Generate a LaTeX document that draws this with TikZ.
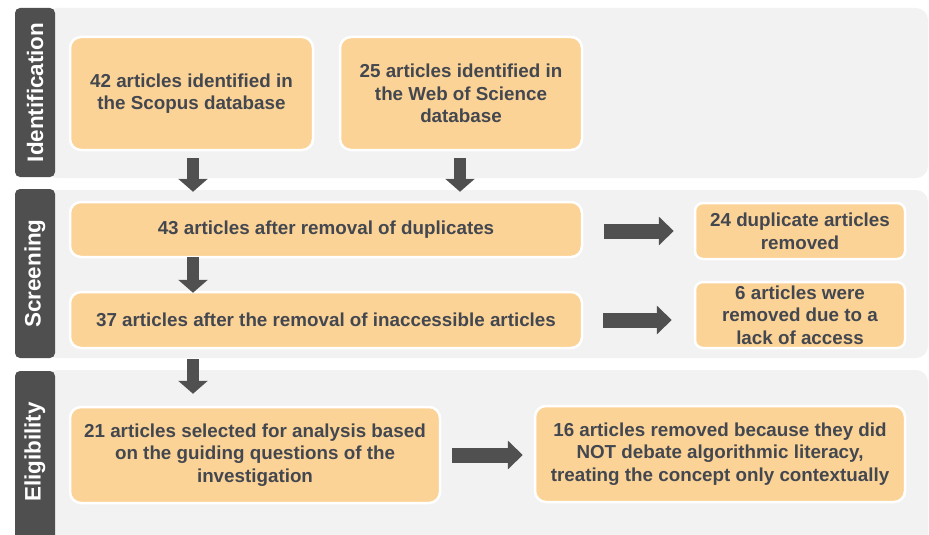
\documentclass[tikz,border=0pt]{standalone}
\usepackage{fontspec}
\setmainfont{Liberation Sans}
\usetikzlibrary{arrows.meta}
\definecolor{bandgray}{HTML}{F2F2F2}
\definecolor{tabgray}{HTML}{4F4F4F}
\definecolor{boxfill}{HTML}{FCD396}
\definecolor{boxtext}{HTML}{43474F}
\definecolor{arrowgray}{HTML}{505050}
\tikzset{
  band/.style={fill=bandgray, rounded corners=12pt},
  tab/.style={fill=tabgray, rounded corners=5pt},
  tablabel/.style={text=white, font=\bfseries\fontsize{22.4}{26}\selectfont, rotate=90, inner sep=0pt},
  stagebox/.style={rectangle, draw=white, line width=2.5pt, fill=boxfill, rounded corners=11pt,
    text=boxtext, font=\bfseries\fontsize{18.8}{22.6}\selectfont, align=center, inner sep=0pt},
  downarrow/.style={draw=arrowgray, line width=12pt, -{Triangle[length=13pt,width=29pt]}},
  sidearrow/.style={draw=arrowgray, line width=15pt, -{Triangle[length=15pt,width=28pt]}},
}
\begin{document}
\begin{tikzpicture}[x=1pt, y=-1pt]
\useasboundingbox (0,0) rectangle (929,535);
\begin{scope}
\clip (0,0) rectangle (929,535);
% stage bands
\fill[band] (45,8) rectangle (928,178);
\fill[band] (45,190) rectangle (928,358);
\fill[band] (45,370) rectangle (928,550);
% stage tabs
\fill[tab] (15,8) rectangle (55,177);
\fill[tab] (15,189) rectangle (55,358);
\fill[tab] (15,371) rectangle (55,550);
\end{scope}
\node[tablabel] (lid) at (35,92.5) {Identification};
\node[tablabel] (lsc) at (35,273.5) {Screening};
\node[tablabel] (lel) at (35,452) {Eligibility};

% boxes
\node[stagebox, minimum width=243pt, minimum height=113pt] (b1) at (191.5,93.5)
  {42 articles identified in\\the Scopus database};
\node[stagebox, minimum width=242pt, minimum height=113pt] (b2) at (461,93.5)
  {25 articles identified in\\the Web of Science\\database};
\node[stagebox, minimum width=512pt, minimum height=55pt] (b3) at (326,229.5)
  {43 articles after removal of duplicates};
\node[stagebox, minimum width=512pt, minimum height=56pt] (b4) at (326,320)
  {37 articles after the removal of inaccessible articles};
\node[stagebox, minimum width=210pt, minimum height=56pt, rounded corners=8pt] (d1) at (800,231)
  {24 duplicate articles\\removed};
\node[stagebox, minimum width=210pt, minimum height=66pt, rounded corners=8pt] (d2) at (800,315)
  {6 articles were\\removed due to a\\lack of access};
\node[stagebox, minimum width=370pt, minimum height=96pt] (b5) at (255,455)
  {21 articles selected for analysis based\\on the guiding questions of the\\investigation};
\node[stagebox, minimum width=370pt, minimum height=96pt] (d3) at (720,454)
  {16 articles removed because they did\\NOT debate algorithmic literacy,\\treating the concept only contextually};

% flow arrows
\draw[downarrow, shorten <=7pt, shorten >=9pt] ([xshift=1.5pt]b1.south) -- ([xshift=1.5pt]b1.south |- b3.north);
\draw[downarrow, shorten <=7pt, shorten >=9pt] ([xshift=-1pt]b2.south) -- ([xshift=-1pt]b2.south |- b3.north);
\draw[downarrow, shorten <=-1pt, shorten >=-2pt] ([xshift=1.5pt]b1.south |- b3.south) -- ([xshift=1.5pt]b1.south |- b4.north);
\draw[downarrow, shorten <=10pt, shorten >=12pt] ([xshift=1.5pt]b1.south |- b4.south) -- ([xshift=1.5pt]b1.south |- b5.north);
\draw[sidearrow, shorten <=21pt, shorten >=20pt] (b3.east |- d1.west) -- (d1.west);
\draw[sidearrow, shorten <=20pt, shorten >=22pt] (b4.east) -- (d2.west |- b4.east);
\draw[sidearrow, shorten <=11pt, shorten >=11pt] (b5.east) -- (d3.west |- b5.east);
\end{tikzpicture}
\end{document}
